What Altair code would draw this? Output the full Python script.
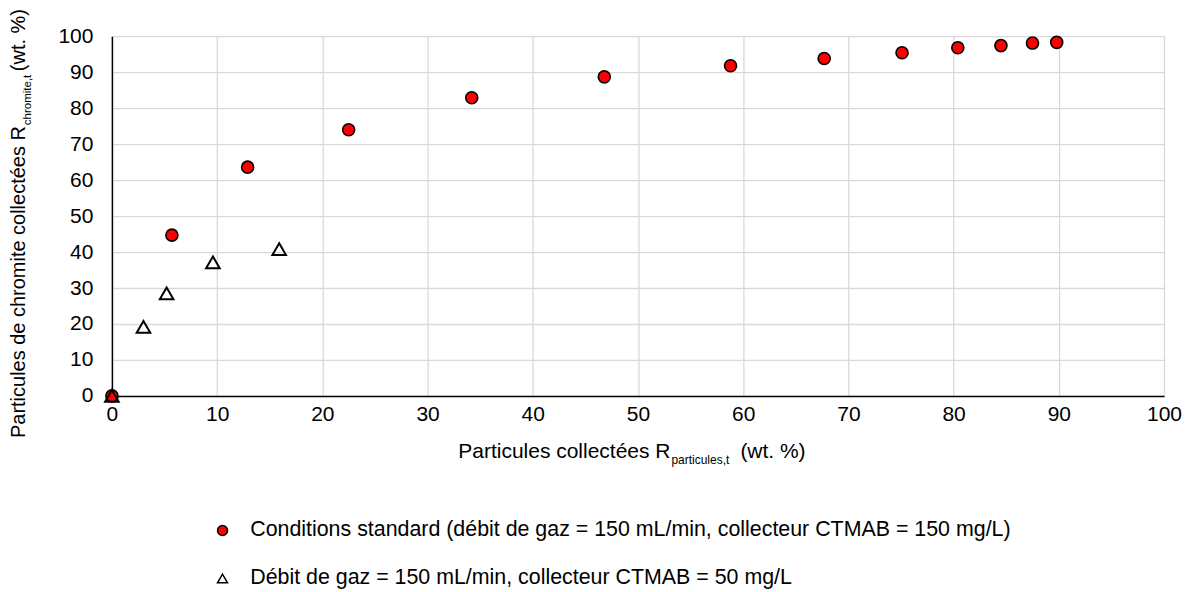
import altair as alt
import pandas as pd

# Data
std_x = [0, 5.7, 12.9, 22.5, 34.2, 46.8, 58.8, 67.7, 75.1, 80.4, 84.5, 87.5, 89.8]
std_y = [0, 44.7, 63.6, 74.0, 82.9, 88.7, 91.8, 93.8, 95.4, 96.8, 97.4, 98.1, 98.3]
low_x = [0, 3.0, 5.2, 9.6, 15.9]
low_y = [0, 19.2, 28.5, 37.1, 40.8]
series_names = [
    "Conditions standard (débit de gaz = 150 mL/min, collecteur CTMAB = 150 mg/L)",
    "Débit de gaz = 150 mL/min, collecteur CTMAB = 50 mg/L",
]
ticks = list(range(0, 101, 10))

FONT = "Liberation Sans"

df_std = pd.DataFrame({"x": std_x, "y": std_y, "series": series_names[0]})
df_low = pd.DataFrame({"x": low_x, "y": low_y, "series": series_names[1]})

legend = alt.Legend(
    title=None, orient="none", legendX=100, legendY=484, direction="vertical",
    labelFont=FONT, labelFontSize=21.4, labelColor="#000000", labelLimit=1000,
    symbolSize=100, symbolStrokeWidth=1.5, rowPadding=25, labelOffset=17, padding=0,
)

x_enc = alt.X("x:Q", scale=alt.Scale(domain=[0, 100], nice=False),
              axis=alt.Axis(values=ticks, title=None, labelPadding=8, labelFlush=False))
y_enc = alt.Y("y:Q", scale=alt.Scale(domain=[0, 100], nice=False),
              axis=alt.Axis(values=ticks, title=None, labelPadding=19, labelFlush=False))

shape_enc = alt.Shape("series:N", scale=alt.Scale(domain=series_names, range=["circle", "triangle-up"]), legend=legend)
fill_enc = alt.Fill("series:N", scale=alt.Scale(domain=series_names, range=["#ff0000", "transparent"]), legend=legend)
stroke_enc = alt.Stroke("series:N", scale=alt.Scale(domain=series_names, range=["#000000", "#000000"]), legend=legend)

circles = alt.Chart(df_std).mark_point(opacity=1, size=145, strokeWidth=1.6).encode(
    x=x_enc, y=y_enc, shape=shape_enc, fill=fill_enc, stroke=stroke_enc,
)
triangles = alt.Chart(df_low).mark_point(opacity=1, size=185, strokeWidth=2.0).encode(
    x=x_enc, y=y_enc, shape=shape_enc, fill=fill_enc, stroke=stroke_enc,
)

one = pd.DataFrame({"k": [0]})

def txt(s, x, y, size=21, align="left", angle=0):
    return alt.Chart(one).mark_text(
        font=FONT, fontSize=size, align=align, baseline="alphabetic", angle=angle, color="#000000"
    ).encode(x=alt.value(x), y=alt.value(y), text=alt.value(s))

# x-axis title with subscript
xt_main = txt("Particules collectées R", 559, 422, align="right")
xt_sub = txt("particules,t", 560, 428, size=12)
xt_suf = txt("(wt. %)", 629, 422)

# y-axis title with subscript (rotated)
yt_main = txt("Particules de chromite collectées R", -87, 90, size=20, align="right", angle=270)
yt_sub = txt("chromite,t", -81, 89, size=11.5, angle=270)
yt_suf = txt("(wt. %)", -87, 35, size=20, angle=270)

chart = alt.layer(circles, triangles, xt_main, xt_sub, xt_suf, yt_main, yt_sub, yt_suf).properties(
    width=1053, height=360,
    autosize=alt.AutoSizeParams(type="none"),
    padding={"left": 104, "top": 28, "right": 20, "bottom": 196},
).configure_axis(
    domainColor="#000000", domainWidth=1.5, gridColor="#d9d9d9", gridWidth=1.3,
    ticks=False, labelFont=FONT, labelFontSize=21, labelColor="#000000",
).configure_view(stroke=None)

chart.save("out.html", embed_options={"renderer": "svg", "actions": False})
